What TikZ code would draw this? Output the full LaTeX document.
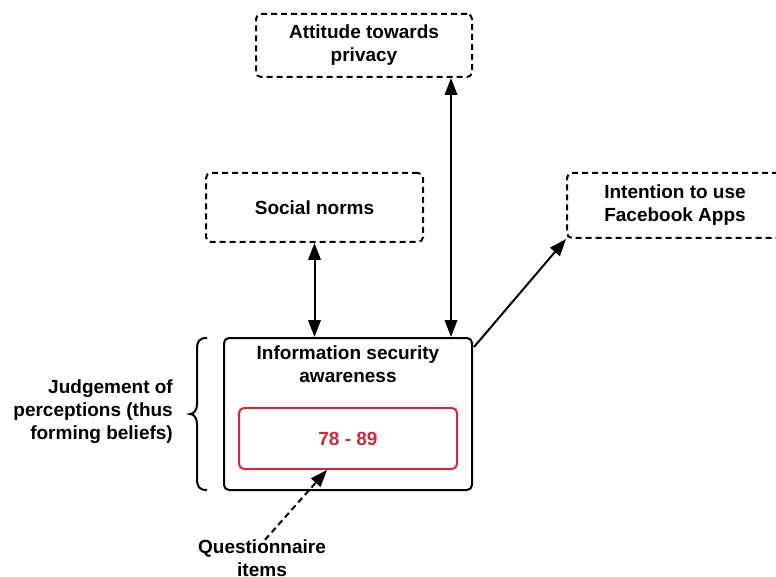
\documentclass[tikz,border=0pt]{standalone}
\usepackage{fontspec}
\setmainfont{Liberation Sans}
\usetikzlibrary{arrows.meta}
\definecolor{itemred}{RGB}{204,42,62}
\begin{document}
\begin{tikzpicture}[x=1pt,y=-1pt,
  every node/.style={font=\fontsize{19}{23}\selectfont\bfseries, align=center, inner sep=0pt},
  dashbox/.style={draw, line width=2pt, dash pattern=on 6pt off 4pt, rounded corners=5pt},
  solidbox/.style={draw, line width=2pt, rounded corners=5pt},
  tip/.style={Triangle[length=17pt,width=12.5pt]},
  conn/.style={line width=2pt, -{Triangle[length=17pt,width=12.5pt]}},
  biconn/.style={line width=2pt, {Triangle[length=17pt,width=12.5pt]}-{Triangle[length=17pt,width=12.5pt]}},
  label/.style={text=black}
]
\useasboundingbox (0,0) rectangle (776,577);

% factor boxes
\node[dashbox, minimum width=216pt, minimum height=63pt] (att) at (364,45.5) {Attitude towards\\privacy};
\node[dashbox, minimum width=217pt, minimum height=69pt] (soc) at (314.5,207.5) {Social norms};
\node[dashbox, minimum width=216pt, minimum height=65pt] (int) at (675,205.5) {Intention to use\\Facebook Apps};

% central construct with its item range
\node[solidbox, minimum width=248pt, minimum height=152pt] (main) at (348,414) {};
\node (title) at (348,364) {Information security\\awareness};
\node[draw=itemred, text=itemred, line width=2pt, rounded corners=5pt,
      minimum width=218pt, minimum height=61pt] (items) at (348,438.5) {78 - 89};

% side labels
\node[label, align=right, anchor=east] (judge) at (173,412) {Judgement of\\perceptions (thus\\forming beliefs)};
\node[label] (quest) at (262,558.5) {Questionnaire\\items};

% brace grouping the construct
\draw[line width=2pt] (207,338) .. controls (199,338) and (197,341) .. (197,350)
  -- (197,404) .. controls (197,410) and (194,414) .. (190,414)
  .. controls (194,414) and (197,418) .. (197,424)
  -- (197,478) .. controls (197,487) and (199,490) .. (207,490);

% connectors
\draw[biconn] (soc.south) -- (soc.south |- main.north);
\draw[biconn] ([xshift=87pt]att.south) coordinate (attfoot) -- (attfoot |- main.north);
\draw[conn] ([yshift=-10pt,xshift=1pt]main.north east) -- (int.south west);
\draw[conn, dash pattern=on 6pt off 4pt] ([xshift=3pt]quest.north) -- ([xshift=-21pt]items.south);
\end{tikzpicture}
\end{document}
